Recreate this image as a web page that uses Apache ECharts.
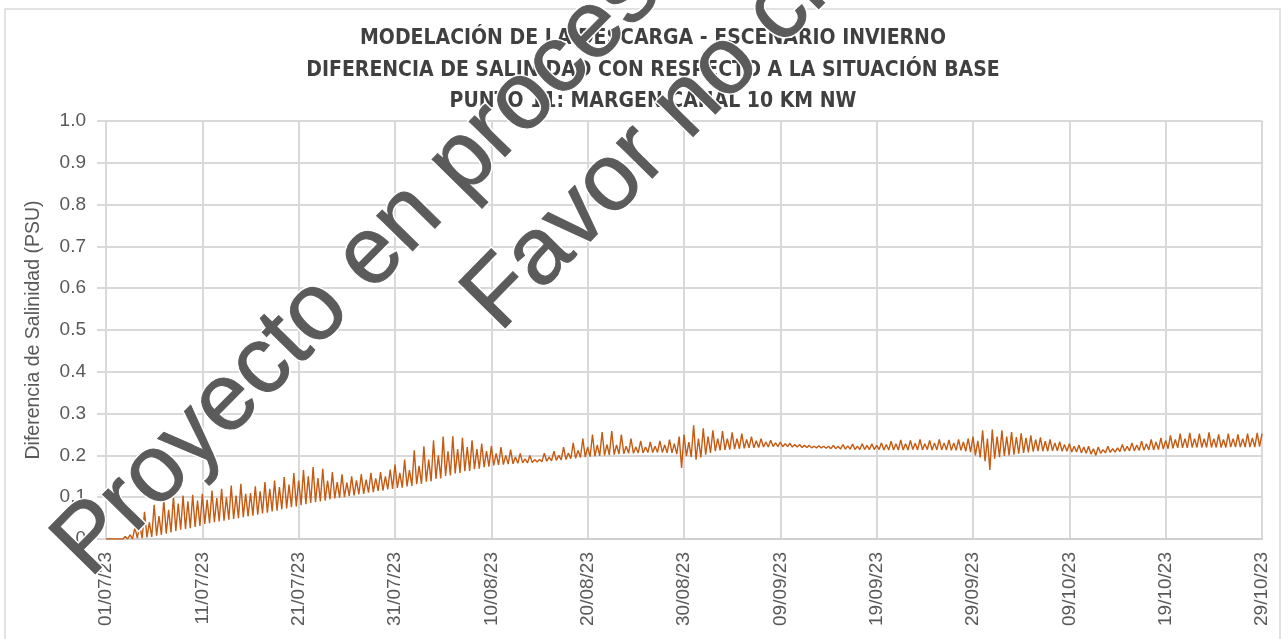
<!DOCTYPE html>
<html>
<head>
<meta charset="utf-8">
<title>Diferencia de salinidad - Punto 11</title>
<script src="https://cdn.jsdelivr.net/npm/echarts@6/dist/echarts.min.js"></script>
<style>
    html, body { margin: 0; padding: 0; background: #fff; }
    #chart { width: 1288px; height: 639px; }
</style>
</head>
<body>
<div id="chart"></div>
<script>
'use strict';

var titleLines = [
    'MODELACIÓN DE LA DESCARGA - ESCENARIO INVIERNO',
    'DIFERENCIA DE SALINIDAD CON RESPECTO A LA SITUACIÓN BASE',
    'PUNTO 11: MARGEN CANAL 10 KM NW'
];
var yAxisName = 'Diferencia de Salinidad (PSU)';
var watermark = ['Proyecto en proceso', 'Favor no citar'];

// fechas cada 10 dias, desde el 01/07/23
var xLabels = ['01/07/23', '11/07/23', '21/07/23', '31/07/23', '10/08/23', '20/08/23', '30/08/23',
    '09/09/23', '19/09/23', '29/09/23', '09/10/23', '19/10/23', '29/10/23'];
var yLabels = ['0.0', '0.1', '0.2', '0.3', '0.4', '0.5', '0.6', '0.7', '0.8', '0.9', '1.0'];

// dos ciclos de marea por dia: pleamar (peaks) y bajamar (troughs), en PSU
var peaks = [
    0, 0, 0, 0, 0.006, 0.01, 0.028, 0.034, 0.065, 0.04,
    0.082, 0.055, 0.094, 0.07, 0.102, 0.085, 0.104, 0.09, 0.106, 0.092,
    0.108, 0.094, 0.116, 0.098, 0.12, 0.1, 0.128, 0.104, 0.132, 0.108,
    0.11, 0.126, 0.114, 0.136, 0.12, 0.14, 0.124, 0.148, 0.13, 0.158,
    0.14, 0.165, 0.15, 0.172, 0.146, 0.168, 0.14, 0.16, 0.136, 0.155,
    0.135, 0.15, 0.14, 0.155, 0.142, 0.158, 0.145, 0.16, 0.15, 0.166,
    0.178, 0.158, 0.19, 0.165, 0.212, 0.175, 0.222, 0.19, 0.236, 0.2,
    0.245, 0.21, 0.246, 0.215, 0.242, 0.22, 0.236, 0.215, 0.228, 0.21,
    0.222, 0.205, 0.22, 0.2, 0.214, 0.196, 0.205, 0.192, 0.2, 0.19,
    0.19, 0.205, 0.196, 0.21, 0.2, 0.22, 0.206, 0.23, 0.212, 0.24,
    0.22, 0.25, 0.225, 0.256, 0.226, 0.258, 0.225, 0.25, 0.222, 0.24,
    0.22, 0.235, 0.22, 0.232, 0.222, 0.235, 0.225, 0.238, 0.228, 0.245,
    0.25, 0.232, 0.272, 0.24, 0.265, 0.245, 0.26, 0.24, 0.258, 0.24,
    0.255, 0.24, 0.252, 0.238, 0.245, 0.235, 0.24, 0.232, 0.236, 0.23,
    0.232, 0.228, 0.229, 0.226, 0.226, 0.224, 0.224, 0.222, 0.223, 0.222,
    0.222, 0.224, 0.222, 0.226, 0.223, 0.227, 0.222, 0.228, 0.224, 0.228,
    0.224, 0.23, 0.226, 0.234, 0.228, 0.237, 0.228, 0.236, 0.229, 0.238,
    0.228, 0.236, 0.23, 0.238, 0.23, 0.237, 0.23, 0.238, 0.232, 0.24,
    0.245, 0.235, 0.26, 0.24, 0.262, 0.245, 0.26, 0.245, 0.256, 0.244,
    0.253, 0.242, 0.248, 0.238, 0.243, 0.234, 0.238, 0.23, 0.233, 0.226,
    0.228, 0.222, 0.225, 0.22, 0.222, 0.216, 0.22, 0.214, 0.222, 0.216,
    0.218, 0.226, 0.222, 0.23, 0.225, 0.234, 0.228, 0.238, 0.232, 0.242,
    0.236, 0.248, 0.238, 0.252, 0.24, 0.254, 0.24, 0.252, 0.24, 0.255,
    0.24, 0.25, 0.238, 0.252, 0.24, 0.25, 0.24, 0.252, 0.242, 0.254,
    0.252
];
var troughs = [
    0, 0, 0, 0, 0, 0, 0.002, 0.002, 0.004, 0.005,
    0.008, 0.01, 0.013, 0.016, 0.019, 0.022, 0.024, 0.026, 0.029, 0.031,
    0.036, 0.038, 0.04, 0.042, 0.044, 0.046, 0.048, 0.05, 0.052, 0.054,
    0.056, 0.058, 0.061, 0.063, 0.066, 0.068, 0.071, 0.073, 0.076, 0.078,
    0.081, 0.083, 0.086, 0.088, 0.09, 0.092, 0.095, 0.097, 0.099, 0.1,
    0.103, 0.104, 0.107, 0.108, 0.111, 0.112, 0.115, 0.116, 0.119, 0.12,
    0.122, 0.123, 0.126, 0.127, 0.131, 0.132, 0.137, 0.138, 0.144, 0.145,
    0.151, 0.152, 0.157, 0.158, 0.162, 0.163, 0.167, 0.168, 0.172, 0.173,
    0.176, 0.177, 0.178, 0.179, 0.18, 0.181, 0.182, 0.182, 0.183, 0.184,
    0.185, 0.186, 0.187, 0.188, 0.189, 0.19, 0.192, 0.193, 0.195, 0.196,
    0.197, 0.198, 0.199, 0.2, 0.201, 0.202, 0.203, 0.204, 0.205, 0.205,
    0.206, 0.206, 0.207, 0.207, 0.207, 0.207, 0.206, 0.206, 0.203, 0.17,
    0.198, 0.196, 0.19, 0.195, 0.202, 0.206, 0.21, 0.212, 0.213, 0.214,
    0.215, 0.216, 0.217, 0.218, 0.218, 0.219, 0.22, 0.22, 0.221, 0.221,
    0.221, 0.221, 0.22, 0.22, 0.219, 0.219, 0.218, 0.218, 0.218, 0.217,
    0.216, 0.216, 0.215, 0.215, 0.215, 0.214, 0.214, 0.214, 0.214, 0.214,
    0.214, 0.213, 0.213, 0.213, 0.213, 0.213, 0.213, 0.214, 0.213, 0.213,
    0.214, 0.213, 0.213, 0.213, 0.213, 0.212, 0.212, 0.212, 0.21, 0.208,
    0.2, 0.195, 0.186, 0.165, 0.192, 0.196, 0.199, 0.2, 0.202, 0.204,
    0.206, 0.207, 0.209, 0.21, 0.21, 0.21, 0.211, 0.211, 0.21, 0.21,
    0.208, 0.208, 0.206, 0.205, 0.203, 0.2, 0.205, 0.206, 0.207, 0.208,
    0.209, 0.21, 0.211, 0.211, 0.212, 0.212, 0.213, 0.213, 0.214, 0.215,
    0.216, 0.217, 0.218, 0.218, 0.218, 0.219, 0.219, 0.219, 0.219, 0.219,
    0.219, 0.219, 0.219, 0.22, 0.22, 0.22, 0.22, 0.22, 0.22, 0.221
];

var chart = {
    init: function () {
        this.myChart = echarts.init(document.getElementById('chart'), null, {renderer: 'canvas'});
        this.myChart.setOption(this.getOptions());
    },
    buildSeries: function () {
        // cada ciclo dura medio dia: pleamar al inicio, bajamar a 1/4 de dia
        var points = [];
        for (var i = 0; i < troughs.length; i++) {
            points.push([i * 0.5, peaks[i]]);
            points.push([i * 0.5 + 0.25, troughs[i]]);
        }
        points.push([troughs.length * 0.5, peaks[troughs.length]]);
        return points;
    },
    // marca de agua: halo blanco debajo y texto gris encima
    stamp: function (text, x, y) {
        var angle = 45.5 * Math.PI / 180;
        var font = '95px "Liberation Sans", Arial, sans-serif';
        return [{
            type: 'text', silent: true, x: x, y: y, rotation: angle, z: 99,
            style: {
                text: text, font: font, fill: '#fff', stroke: '#fff', lineWidth: 4,
                align: 'left', verticalAlign: 'middle'
            }
        }, {
            type: 'text', silent: true, x: x, y: y, rotation: angle, z: 100,
            style: {
                text: text, font: font, fill: '#5b5b5b', stroke: '#5b5b5b', lineWidth: 1,
                align: 'left', verticalAlign: 'middle'
            }
        }];
    },
    getOptions: function () {
        var gridColor = '#d9d9d9';
        var textColor = '#595959';
        var labelFont = '"Liberation Sans", Arial, sans-serif';
        var graphic = [{
            type: 'rect',
            silent: true,
            z: -10,
            shape: {x: 5, y: 9, width: 1275, height: 640},
            style: {fill: 'none', stroke: '#d9d9d9', lineWidth: 1.5}
        }];
        graphic = graphic.concat(this.stamp(watermark[0], 71, 561), this.stamp(watermark[1], 481, 315));

        return {
            backgroundColor: '#fff',
            animation: false,
            title: {
                text: titleLines.join('\n'),
                left: 648,
                top: 18,
                textAlign: 'center',
                textStyle: {
                    fontFamily: '"Liberation Sans Narrow", "DejaVu Sans Condensed", sans-serif',
                    fontWeight: 'bold',
                    fontSize: 21,
                    lineHeight: 31.5,
                    color: '#404040'
                }
            },
            grid: {
                left: 106,
                right: 26,
                top: 121,
                bottom: 100,
                containLabel: false,
                outerBoundsMode: 'none'
            },
            xAxis: {
                type: 'value',
                min: 0,
                max: 120,
                interval: 10,
                axisLine: {show: true, lineStyle: {color: '#cfcfcf', width: 2}},
                axisTick: {show: false},
                splitLine: {show: true, lineStyle: {color: gridColor, width: 2}},
                axisLabel: {
                    rotate: 90,
                    margin: 13,
                    color: textColor,
                    fontSize: 19,
                    fontFamily: labelFont,
                    formatter: function (v) {
                        return xLabels[Math.round(v / 10)];
                    }
                }
            },
            yAxis: {
                type: 'value',
                min: 0,
                max: 1,
                interval: 0.1,
                name: yAxisName,
                nameLocation: 'middle',
                nameGap: 62,
                nameTextStyle: {
                    color: textColor,
                    fontSize: 19.5,
                    fontFamily: labelFont
                },
                axisLine: {show: true, lineStyle: {color: gridColor, width: 2}},
                axisTick: {show: true, length: 9, lineStyle: {color: gridColor, width: 2}},
                splitLine: {show: true, lineStyle: {color: gridColor, width: 2}},
                axisLabel: {
                    margin: 20,
                    color: textColor,
                    fontSize: 19,
                    fontFamily: labelFont,
                    formatter: function (v) {
                        return yLabels[Math.round(v * 10)];
                    }
                }
            },
            series: [{
                type: 'line',
                data: this.buildSeries(),
                showSymbol: false,
                sampling: null,
                lineStyle: {color: '#c55a11', width: 1.4},
                itemStyle: {color: '#c55a11'},
                z: 3
            }],
            graphic: graphic
        };
    }
};

chart.init();
</script>
</body>
</html>
